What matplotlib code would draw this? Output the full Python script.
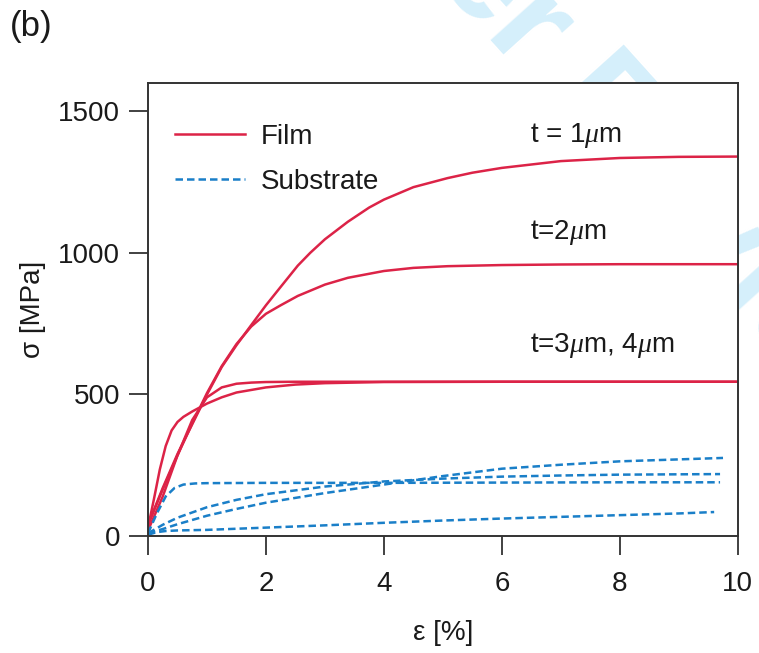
import matplotlib
matplotlib.use("Agg")
import matplotlib.pyplot as plt
import numpy as np

plt.rcParams['font.family'] = ['Liberation Sans', 'DejaVu Sans']
plt.rcParams['mathtext.fontset'] = 'custom'
plt.rcParams['mathtext.it'] = 'Liberation Serif:italic'
plt.rcParams['mathtext.rm'] = 'Liberation Sans'

# ---- data (strain %, stress MPa) ----
film_t1_x = [0, 0.25, 0.5, 0.75, 1, 1.25, 1.5, 1.75, 2, 2.25, 2.54, 2.75, 3, 3.39, 3.75, 4, 4.5, 5.08, 5.5, 6, 7, 8, 9, 10]
film_t1_y = [40, 170, 290, 395, 500, 597, 674, 745, 815, 880, 955, 1000, 1048, 1110, 1160, 1188, 1232, 1264, 1283, 1300, 1324, 1335, 1339, 1340]

film_t2_x = [0, 0.25, 0.5, 0.75, 1, 1.25, 1.5, 1.75, 2, 2.25, 2.54, 3, 3.39, 4, 4.5, 5.08, 6, 7, 8, 10]
film_t2_y = [40, 165, 285, 398, 505, 600, 678, 740, 785, 815, 848, 888, 912, 936, 947, 953, 957, 959, 960, 960]

film_t3_x = [0, 0.1, 0.2, 0.3, 0.4, 0.5, 0.6, 0.75, 1, 1.25, 1.5, 2, 2.5, 3, 4, 6, 10]
film_t3_y = [30, 130, 235, 318, 373, 403, 421, 440, 468, 490, 507, 525, 535, 540, 544, 545, 545]

film_t4_x = [0, 0.25, 0.5, 0.75, 1, 1.25, 1.5, 1.75, 2, 2.5, 3, 4, 6, 10]
film_t4_y = [20, 140, 285, 410, 490, 525, 538, 542, 544, 545, 545, 545, 545, 545]

sub_1_x = [0, 0.15, 0.3, 0.45, 0.6, 0.8, 1, 2, 4, 6, 8, 9.7]
sub_1_y = [10, 80, 140, 170, 182, 186, 187, 188, 188, 189, 190, 190]

sub_2_x = [0, 0.25, 0.5, 1, 1.5, 2, 3, 4, 5, 6, 7, 8, 9.7]
sub_2_y = [10, 40, 65, 102, 128, 148, 175, 193, 203, 210, 214, 217, 219]

sub_3_x = [0, 0.25, 0.5, 1, 1.5, 2, 3, 4, 5, 6, 7, 8, 9.75]
sub_3_y = [10, 25, 42, 72, 96, 118, 152, 182, 212, 238, 252, 264, 276]

sub_4_x = [0, 0.15, 0.3, 0.5, 1, 2, 3, 4, 5, 6, 7, 8, 9, 9.6]
sub_4_y = [5, 14, 18, 20, 22, 30, 38, 47, 55, 62, 68, 74, 80, 85]

x_ticks = [0, 2, 4, 6, 8, 10]
y_ticks = [0, 500, 1000, 1500]

red = '#dc2347'
blue = '#1a7fc8'

fig = plt.figure(figsize=(7.59, 6.53), dpi=100)

# watermark
fig.text(0.1884, 1.530, "For Peer Review", fontsize=100, fontweight='bold',
         color='#d5effb', rotation=-48, rotation_mode='anchor',
         ha='left', va='baseline', zorder=0)

ax = fig.add_axes([0.195, 0.179, 0.777, 0.694])
ax.set_facecolor('white')
ax.set_zorder(2)

lw = 1.8
ax.plot(film_t1_x, film_t1_y, color=red, lw=lw, label='Film')
ax.plot(film_t2_x, film_t2_y, color=red, lw=lw)
ax.plot(film_t3_x, film_t3_y, color=red, lw=lw)
ax.plot(film_t4_x, film_t4_y, color=red, lw=lw)

dash = (3.0, 1.6)
ax.plot(sub_1_x, sub_1_y, color=blue, lw=lw, ls=(0, dash), label='Substrate')
ax.plot(sub_2_x, sub_2_y, color=blue, lw=lw, ls=(0, dash))
ax.plot(sub_3_x, sub_3_y, color=blue, lw=lw, ls=(0, dash))
ax.plot(sub_4_x, sub_4_y, color=blue, lw=lw, ls=(0, dash))

ax.set_xlim(0, 10)
ax.set_ylim(0, 1600)
ax.set_xticks(x_ticks)
ax.set_yticks(y_ticks)
ax.tick_params(direction='out', length=14, width=1.3, labelsize=20, colors='#333333',
               labelcolor='#1a1a1a')
ax.tick_params(axis='x', pad=11)
ax.tick_params(axis='y', pad=6)
for s in ax.spines.values():
    s.set_linewidth(1.4)
    s.set_color('#333333')

ax.set_xlabel('ε [%]', fontsize=20, labelpad=17, color='#1a1a1a')
ax.set_ylabel('σ [MPa]', fontsize=20, labelpad=9, color='#1a1a1a')

ax.text(6.47, 1415, r't = 1$\mu$m', fontsize=20, va='center', color='#1a1a1a')
ax.text(6.47, 1073, r't=2$\mu$m', fontsize=20, va='center', color='#1a1a1a')
ax.text(6.47, 674, r't=3$\mu$m, 4$\mu$m', fontsize=20, va='center', color='#1a1a1a')

leg = ax.legend(loc='upper left', bbox_to_anchor=(0.046, 0.91), frameon=False, fontsize=20,
                handlelength=2.5, handletextpad=0.6, labelspacing=0.7,
                borderaxespad=0, borderpad=0)
for t in leg.get_texts():
    t.set_color('#1a1a1a')

fig.text(0.013, 0.959, '(b)', fontsize=25, va='center', ha='left', color='#1a1a1a')

fig.savefig('out.png', dpi=100)
